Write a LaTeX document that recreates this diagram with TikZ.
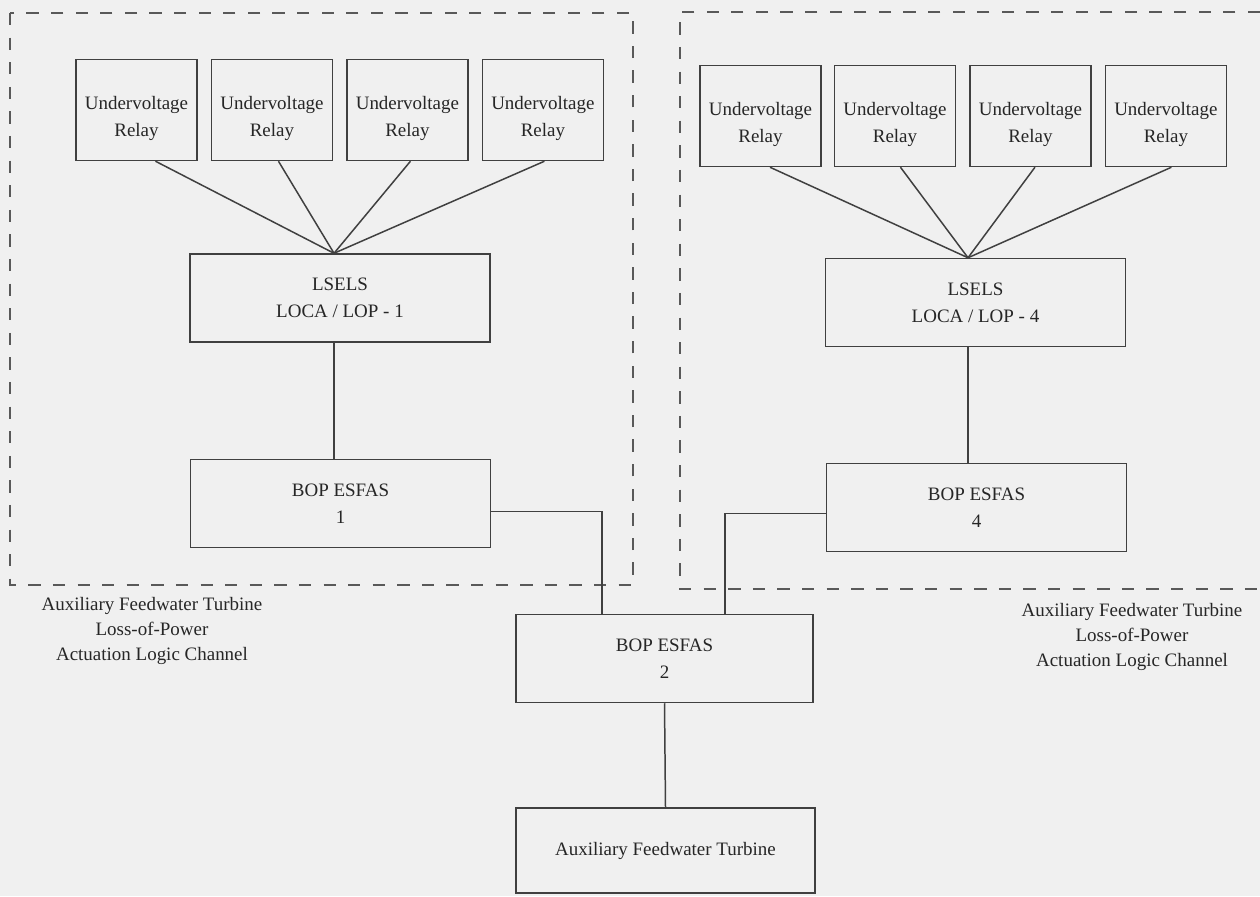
\documentclass[tikz,border=0pt]{standalone}
\usepackage{fontspec}
\setmainfont{Liberation Serif}
\usetikzlibrary{positioning,calc}
\tikzset{relay node/.style={rectangle,draw=black!75,line width=0.85pt,minimum width=2.42cm,minimum height=2.02cm,inner sep=0pt,align=center,text=black!85,font=\fontsize{10.8}{15}\selectfont,text height=32pt},
         logic node/.style={rectangle,draw=black!75,line width=0.85pt,minimum width=6cm,minimum height=1.76cm,inner sep=0pt,align=center,text=black!85,font=\fontsize{10.8}{15.5}\selectfont},
         channel label/.style={rectangle,draw=none,fill=none,align=center,text=black!85,font=\fontsize{10.8}{14.2}\selectfont},
         group frame/.style={draw=black!65,line width=1.1pt,dash pattern=on 7pt off 7pt},
         link/.style={draw=black!75,line width=0.85pt},
}
\begin{document}
\begin{tikzpicture}[x=0.02cm,y=-0.02cm]
\fill[black!6] (0,0) rectangle (1260,896);
\useasboundingbox (0,0) rectangle (1260,896);
% \draw[help lines,step=100] (0,0) grid (1260,896);
\draw[group frame] (10,13) rectangle (633,585);
\draw[group frame] (1260,12) -- (680,12) -- (680,589) -- (1260,589);
% channel 1
\node[relay node] (r1) at (136.5,110) {Undervoltage\\Relay};
\node[relay node,right=0.26cm of r1] (r2) {Undervoltage\\Relay};
\node[relay node,right=0.26cm of r2] (r3) {Undervoltage\\Relay};
\node[relay node,right=0.26cm of r3] (r4) {Undervoltage\\Relay};
\node[logic node] (l1) at (340,298) {LSELS\\LOCA / LOP - 1};
\node[logic node] (e1) at (340.5,503.5) {BOP ESFAS\\1};
\coordinate (hub1) at ($(l1.north)+(-6,0)$);
% channel 4
\node[relay node] (q1) at (760.5,116) {Undervoltage\\Relay};
\node[relay node,right=0.24cm of q1] (q2) {Undervoltage\\Relay};
\node[relay node,right=0.26cm of q2] (q3) {Undervoltage\\Relay};
\node[relay node,right=0.26cm of q3] (q4) {Undervoltage\\Relay};
\node[logic node] (l4) at (975.5,302.5) {LSELS\\LOCA / LOP - 4};
\node[logic node] (e4) at (976.5,507.5) {BOP ESFAS\\4};
\coordinate (hub4) at ($(l4.north)+(-7.5,0)$);
% common
\node[logic node,minimum width=5.94cm] (e2) at (664.5,658.5) {BOP ESFAS\\2};
\node[logic node,minimum width=5.98cm,minimum height=1.7cm] (aft) at (665.5,850.5) {Auxiliary Feedwater Turbine};
\node[channel label] (c1) at (152,631) {Auxiliary Feedwater Turbine\\Loss-of-Power\\Actuation Logic Channel};
\node[channel label] (c4) at (1132,637) {Auxiliary Feedwater Turbine\\Loss-of-Power\\Actuation Logic Channel};
\foreach \i/\dr/\dq in {1/19/9.5,2/6.5/5.5,3/3/4.5,4/1.5/5.5}{
    \draw[link] ($(r\i.south)+(\dr,0)$) -- (hub1);
    \draw[link] ($(q\i.south)+(\dq,0)$) -- (hub4);
}
\draw[link] (l1.south -| hub1) -- (e1.north -| hub1);
\draw[link] (l4.south -| hub4) -- (e4.north -| hub4);
\draw[link] ($(e1.east)+(0,8)$) -| ($(e2.north)+(-62.5,0)$);
\draw[link] ($(e4.west)+(0,6)$) -| ($(e2.north)+(60.5,0)$);
\draw[link] (e2.south) -- (aft.north);
\end{tikzpicture}
\end{document}
